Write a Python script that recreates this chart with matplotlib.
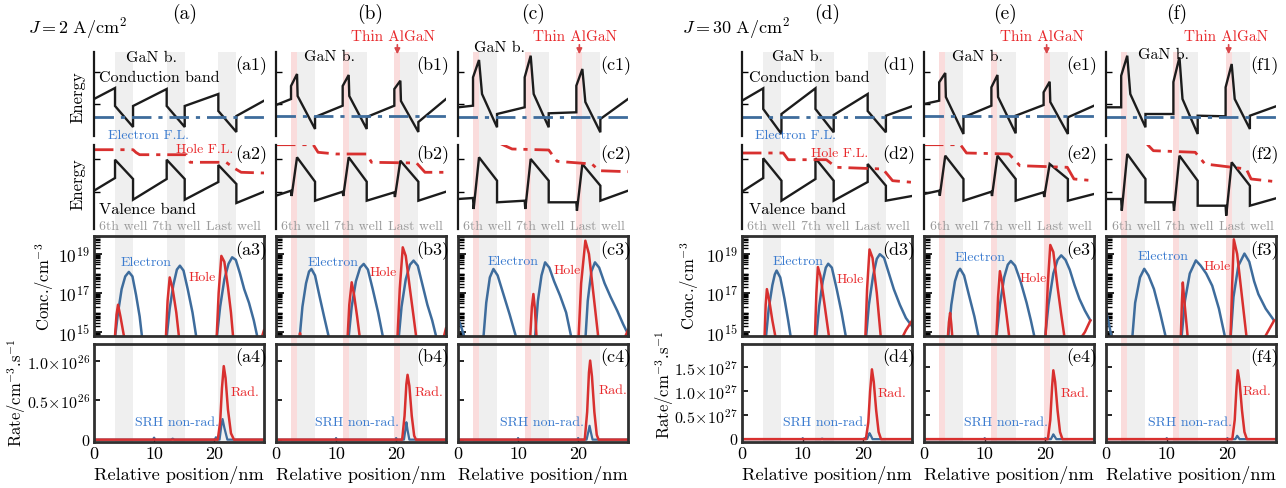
import numpy as np
import matplotlib
matplotlib.use('Agg')
import matplotlib.pyplot as plt
from matplotlib.ticker import LogLocator, NullFormatter
from matplotlib.transforms import blended_transform_factory

plt.rcParams['font.family'] = 'cmr10'
plt.rcParams['mathtext.fontset'] = 'cm'
plt.rcParams['axes.unicode_minus'] = False
plt.rcParams['axes.formatter.use_mathtext'] = True

W, H = 1286, 489

# ---------------- data (x in nm) ----------------
well_spans = [(3.5, 6.5), (12.1, 15.1), (20.7, 23.7)]
algan_spans = [(2.5, 3.5), (11.1, 12.1), (19.7, 20.7)]
well_names = ['6th well', '7th well', 'Last well']
well_label_x = [4.9, 13.7, 23.2]

# conduction band (a.u.)
cb_a = [(0, 37), (3.5, 48), (3.5, 30), (6.5, 9), (6.5, 30), (12.1, 47), (12.1, 30), (15.1, 9), (15.1, 30),
        (20.7, 42), (20.7, 25), (23.7, 4), (23.7, 20), (28.3, 35.3)]
cb_b = [(0, 31), (2.5, 37), (2.5, 50), (3.5, 62), (3.6, 40), (6.5, 7), (6.5, 19), (11.1, 30.3), (11.1, 50),
        (12.1, 61), (12.2, 40), (15.1, 7), (15.1, 19), (19.7, 30.3), (19.7, 47), (20.7, 55.3), (20.8, 35),
        (23.7, 4), (23.7, 14), (28.3, 37)]
cb_c = [(0, 28.7), (2.5, 30.3), (2.5, 58.7), (3.5, 76), (4.0, 42), (6.5, 8.7), (6.5, 22), (11.1, 28.7),
        (11.1, 58.7), (12.1, 80.3), (12.6, 42), (15.1, 8.7), (15.1, 22.7), (19.7, 23.7), (19.7, 50.3),
        (20.7, 67), (21.2, 34), (23.7, 3.7), (23.7, 17), (28.3, 37)]
cb_d = [(0, 35.3), (3.5, 47.7), (3.5, 27), (6.5, 2), (6.5, 22), (12.1, 47.7), (12.1, 27), (15.1, 3.7),
        (15.1, 21), (20.7, 42), (20.7, 25), (23.7, 3.7), (23.7, 20.3), (28.0, 29.7)]
cb_e = [(0, 32), (2.5, 35.3), (2.5, 53.7), (3.5, 63), (3.6, 39), (6.5, 2), (6.5, 18.7), (11.1, 30.3),
        (11.1, 48.7), (12.1, 61), (12.2, 39), (15.1, 2.7), (15.1, 20.3), (19.7, 31), (19.7, 43.7),
        (20.7, 54.3), (20.8, 34), (23.7, 2), (23.7, 18.7), (28.0, 30.3)]
cb_f = [(0, 28.7), (2.5, 28.7), (2.5, 60.3), (3.5, 80.3), (4.0, 42), (6.5, 8.7), (6.5, 22), (11.1, 22),
        (11.1, 54), (12.1, 78.7), (12.6, 37), (15.1, 2), (15.1, 20.3), (19.7, 19.7), (19.7, 48.7),
        (20.7, 72), (21.2, 37), (23.7, 7), (23.7, 20.3), (28.0, 29.7)]

# valence band (a.u.)
vb_a = [(0, 38.3), (3.5, 51), (3.5, 69.3), (6.5, 50), (6.5, 29.3), (12.1, 50), (12.1, 69.3), (15.1, 50),
        (15.1, 29.3), (20.7, 47), (20.7, 64), (23.7, 45), (23.7, 26), (28.3, 37.3)]
vb_b = [(0, 33.3), (2.5, 38.3), (2.6, 33), (3.5, 71.7), (6.5, 47.3), (6.5, 28.3), (11.1, 37.3), (11.2, 33),
        (12.1, 71.7), (15.1, 47.3), (15.1, 28.3), (19.7, 36.7), (19.8, 32), (20.7, 68.3), (23.7, 47.3),
        (23.7, 28.3), (28.3, 37.3)]
vb_c = [(0, 30), (2.5, 31), (2.6, 20), (3.5, 71.7), (6.5, 48.3), (6.5, 26.7), (11.1, 28.3), (11.2, 20),
        (12.1, 70), (15.1, 48.3), (15.1, 26.7), (19.7, 26.7), (19.8, 18.3), (20.7, 65), (23.7, 43.3),
        (23.7, 28.3), (28.3, 38.3)]
vb_d = [(0, 37.3), (3.5, 51), (3.5, 70.7), (6.5, 48.3), (6.5, 28.3), (12.1, 50), (12.1, 70.7), (15.1, 48.3),
        (15.1, 28.3), (20.7, 47), (20.7, 65), (23.7, 43.3), (23.7, 28.3), (28.0, 33)]
vb_e = [(0, 35), (2.5, 38.3), (2.6, 33.3), (3.5, 73.3), (6.5, 50), (6.5, 28.3), (11.1, 37.3), (11.2, 33),
        (12.1, 73.3), (15.1, 50), (15.1, 28.3), (19.7, 36.7), (19.8, 32), (20.7, 65), (23.7, 50),
        (23.7, 28.3), (28.0, 35)]
vb_f = [(0, 30), (2.5, 30), (2.6, 18.3), (3.5, 75), (6.5, 50), (6.5, 26.7), (11.1, 26.7), (11.2, 18.3),
        (12.1, 73.3), (15.1, 48.3), (15.1, 23.3), (19.7, 23.3), (19.8, 13.3), (20.7, 66.7), (23.7, 43.3),
        (23.7, 23.3), (28.0, 30.7)]

# quasi Fermi levels (a.u.)
efn_levels = [19.3, 19.7, 19.3, 18.7, 19.7, 18.7]
efp_a = [(0, 79.3), (6.5, 79.3), (7.0, 76.5), (7.6, 74.3), (15.4, 74.3), (16.0, 66.7), (22.0, 66.7),
         (23.3, 61), (24.5, 56.7), (28.3, 56)]
efp_b = [(0, 84.3), (6.2, 84.3), (7.0, 76.7), (10.0, 75), (15.1, 75), (15.9, 66.7), (23.4, 66),
         (24.8, 56.7), (28.3, 56.7)]
efp_c = [(6.8, 87), (7.2, 85), (9.0, 80), (15.1, 79), (16.5, 67.7), (22.3, 65), (23.5, 58.3), (28.3, 57.3)]
efp_d = [(0, 76), (6.8, 76), (7.6, 69.3), (13.9, 69.3), (15.5, 61.7), (23.2, 60), (24.8, 48.3), (28.0, 46.7)]
efp_e = [(0, 84.3), (6.0, 84.3), (7.0, 76), (14.0, 75), (15.8, 63.3), (23.6, 61.7), (24.7, 50), (28.0, 48.3)]
efp_f = [(6.5, 87.3), (6.9, 84), (7.8, 78.3), (14.7, 76.7), (16.3, 65), (23.1, 60), (23.9, 50), (28.0, 47.3)]

# carrier concentration, log10(cm^-3)
elec_a = [[(3.45, 14.6), (4.0, 16.0), (4.6, 17.2), (5.2, 17.85), (5.8, 18.08), (6.4, 17.85), (7.0, 16.9),
           (7.6, 15.8), (8.05, 14.6)],
          [(12.05, 14.6), (12.6, 16.2), (13.2, 17.4), (13.8, 18.2), (14.3, 18.4), (14.9, 18.15), (15.6, 17.2),
           (16.4, 16.0), (17.1, 14.6)],
          [(20.4, 14.6), (21.0, 16.3), (21.7, 17.7), (22.4, 18.5), (23.0, 18.83), (23.6, 18.7), (24.3, 18.0),
           (25.0, 17.2), (25.8, 16.5), (26.6, 15.6), (27.3, 14.6)]]
hole_a = [[(3.45, 14.6), (3.75, 15.9), (4.0, 16.4), (4.4, 15.8), (5.1, 14.6)],
          [(11.95, 14.6), (12.25, 16.6), (12.6, 17.8), (13.1, 17.2), (13.7, 16.0), (14.2, 14.6)],
          [(20.4, 14.6), (20.75, 17.0), (21.2, 18.9), (21.7, 18.6), (22.3, 17.3), (22.8, 16.0), (23.2, 14.6)],
          [(27.8, 14.6), (28.3, 15.1)]]
elec_b = [[(3.9, 14.6), (4.4, 16.3), (5.0, 17.5), (5.5, 18.1), (5.9, 18.23), (6.5, 17.9), (7.2, 16.9),
           (8.0, 15.8), (8.9, 14.6)],
          [(12.05, 14.6), (12.6, 16.3), (13.3, 17.6), (14.0, 18.3), (14.6, 18.49), (15.3, 18.2), (16.1, 17.2),
           (17.0, 16.0), (17.9, 14.6)],
          [(20.4, 14.6), (20.9, 16.3), (21.6, 17.7), (22.3, 18.45), (22.9, 18.66), (23.6, 18.4), (24.4, 17.4),
           (25.2, 16.4), (26.0, 15.6), (26.8, 14.6)]]
hole_b = [[(3.8, 14.6), (4.0, 14.95), (4.2, 14.6)],
          [(11.9, 14.6), (12.2, 16.4), (12.6, 17.55), (13.0, 16.9), (13.5, 15.8), (14.0, 14.6)],
          [(20.2, 14.6), (20.6, 17.2), (21.1, 19.34), (21.6, 18.9), (22.3, 17.2), (22.9, 15.8), (23.4, 14.6)],
          [(27.8, 14.6), (28.3, 15.2)]]
elec_c = [[(0, 15.7), (0.5, 15.3), (1.2, 14.6)],
          [(4.2, 14.6), (4.7, 16.5), (5.3, 17.8), (5.9, 18.23), (6.6, 17.9), (7.5, 17.0), (8.6, 15.9),
           (9.8, 14.6)],
          [(12.8, 14.6), (13.3, 16.6), (13.9, 17.9), (14.5, 18.57), (15.2, 18.3), (16.0, 17.6), (17.0, 16.86),
           (18.0, 16.0), (18.95, 14.6)],
          [(21.2, 14.6), (21.6, 16.6), (22.2, 18.1), (22.8, 18.57), (23.5, 18.3), (24.4, 17.5), (25.4, 16.8),
           (26.5, 16.1), (27.5, 15.4), (28.3, 14.9)]]
hole_c = [[(12.0, 14.6), (12.3, 16.3), (12.55, 16.95), (12.8, 16.2), (13.1, 14.6)],
          [(20.05, 14.6), (20.5, 17.5), (21.2, 19.68), (21.8, 19.0), (22.6, 16.8), (23.4, 14.6)],
          [(27.6, 14.6), (28.3, 15.1)]]
elec_d = [[(3.9, 14.6), (4.4, 16.2), (5.0, 17.4), (5.4, 17.95), (5.7, 18.15), (6.3, 17.8), (7.0, 16.7),
           (7.6, 15.6), (8.1, 14.6)],
          [(12.2, 14.6), (12.7, 16.3), (13.3, 17.6), (13.8, 18.3), (14.2, 18.5), (14.8, 18.3), (15.6, 17.2),
           (16.4, 16.0), (17.2, 14.6)],
          [(20.4, 14.6), (20.9, 16.4), (21.6, 17.9), (22.2, 18.75), (22.7, 18.99), (23.4, 18.8), (24.2, 18.0),
           (25.0, 17.2), (26.0, 16.4), (27.0, 15.72), (28.0, 15.3)]]
hole_d = [[(3.7, 14.6), (3.9, 16.4), (4.1, 17.2), (4.5, 16.6), (5.0, 15.6), (5.6, 14.6)],
          [(12.0, 14.6), (12.25, 17.0), (12.5, 18.33), (12.9, 17.9), (13.6, 16.4), (14.4, 14.6)],
          [(20.3, 14.6), (20.6, 17.2), (21.0, 19.23), (21.5, 18.8), (22.2, 17.0), (22.9, 14.6)],
          [(26.2, 14.6), (27.0, 15.1), (28.0, 15.58)]]
elec_e = [[(3.95, 14.6), (4.5, 16.4), (5.1, 17.6), (5.6, 18.1), (5.95, 18.24), (6.6, 17.9), (7.4, 16.9),
           (8.3, 15.8), (9.1, 14.6)],
          [(11.9, 14.6), (12.5, 16.4), (13.2, 17.8), (13.8, 18.45), (14.3, 18.64), (15.0, 18.4), (15.9, 17.6),
           (16.9, 16.5), (17.6, 15.6), (18.3, 14.6)],
          [(19.9, 14.6), (20.5, 16.4), (21.3, 18.0), (22.0, 18.7), (22.6, 18.93), (23.3, 18.7), (24.0, 18.2),
           (24.8, 17.4), (25.6, 16.7), (26.5, 16.1), (27.4, 15.6)]]
hole_e = [[(3.9, 14.6), (4.1, 15.5), (4.3, 15.98), (4.5, 15.4), (4.7, 14.6)],
          [(11.9, 14.6), (12.2, 16.8), (12.5, 18.12), (12.9, 17.5), (13.5, 16.1), (14.1, 14.6)],
          [(20.0, 14.6), (20.4, 17.5), (20.8, 19.46), (21.3, 19.1), (22.0, 17.3), (22.6, 15.9), (23.2, 14.6)],
          [(25.6, 14.6), (26.5, 15.0), (27.4, 15.6)]]
elec_f = [[(0, 16.1), (0.5, 15.4), (1.0, 14.6)],
          [(4.3, 14.6), (4.8, 16.5), (5.6, 17.8), (6.3, 18.24), (7.0, 17.9), (7.9, 17.2), (8.9, 16.0),
           (9.95, 14.6)],
          [(12.4, 14.6), (13.0, 16.6), (13.8, 18.0), (14.8, 18.67), (15.6, 18.4), (16.5, 18.0), (17.5, 17.37),
           (18.6, 16.2), (19.7, 14.6)],
          [(20.5, 14.6), (21.0, 16.8), (21.8, 18.4), (22.8, 19.02), (23.6, 18.6), (24.4, 17.6), (25.1, 16.94),
           (26.3, 16.2), (27.6, 15.63)]]
hole_f = [[(12.3, 14.6), (12.5, 16.5), (12.65, 17.54), (12.9, 16.6), (13.5, 14.6)],
          [(20.5, 14.6), (20.8, 17.6), (21.05, 19.75), (21.6, 19.0), (22.4, 16.8), (23.2, 14.6)],
          [(25.9, 14.6), (26.8, 15.1), (27.7, 15.6)]]

# recombination rates (a-c: 1e26, d-f: 1e27 cm^-3 s^-1)
rad_a = [(0, 0), (20.6, 0), (21.0, 0.22), (21.3, 0.65), (21.6, 0.93), (21.9, 0.78), (22.3, 0.38), (22.8, 0.08),
         (23.3, 0), (28.3, 0)]
srh_a = [(0, 0), (9.8, 0), (10.0, 0.025), (10.2, 0), (12.8, 0), (13.1, 0.012), (13.4, 0), (20.1, 0),
         (20.3, 0.03), (20.5, 0), (20.9, 0), (21.2, 0.18), (21.4, 0.26), (21.7, 0.15), (22.2, 0), (28.3, 0)]
rad_b = [(0, 0), (21.0, 0), (21.4, 0.3), (21.7, 0.7), (21.9, 0.82), (22.2, 0.68), (22.6, 0.3), (23.0, 0.05),
         (23.3, 0), (28.3, 0)]
srh_b = [(0, 0), (9.9, 0), (10.0, 0.02), (10.1, 0), (19.9, 0), (20.0, 0.02), (20.1, 0), (21.3, 0),
         (21.55, 0.13), (21.7, 0.22), (21.9, 0.12), (22.2, 0), (28.3, 0)]
rad_c = [(0, 0), (21.1, 0), (21.5, 0.35), (21.8, 0.85), (22.0, 1.0), (22.3, 0.8), (22.7, 0.35), (23.1, 0.06),
         (23.4, 0), (28.3, 0)]
srh_c = [(0, 0), (9.9, 0), (10.0, 0.02), (10.1, 0), (19.9, 0), (20.0, 0.02), (20.1, 0), (21.4, 0),
         (21.7, 0.1), (21.9, 0.175), (22.1, 0.1), (22.4, 0), (28.3, 0)]
rad_d = [(0, 0), (20.4, 0), (20.8, 0.35), (21.1, 1.0), (21.4, 1.46), (21.7, 1.2), (22.1, 0.6), (22.5, 0.15),
         (22.9, 0), (28.0, 0)]
srh_d = [(0, 0), (9.9, 0), (10.0, 0.02), (10.1, 0), (13.0, 0), (13.2, 0.01), (13.4, 0), (20.0, 0),
         (20.2, 0.02), (20.4, 0), (20.6, 0), (20.85, 0.08), (21.0, 0.125), (21.2, 0.08), (21.5, 0), (28.0, 0)]
rad_e = [(0, 0), (20.4, 0), (20.8, 0.4), (21.1, 1.1), (21.3, 1.44), (21.6, 1.2), (22.0, 0.6), (22.4, 0.15),
         (22.8, 0), (28.0, 0)]
srh_e = [(0, 0), (9.9, 0), (10.0, 0.02), (10.1, 0), (19.9, 0), (20.0, 0.02), (20.1, 0), (20.9, 0),
         (21.15, 0.06), (21.3, 0.1), (21.5, 0.06), (21.8, 0), (28.0, 0)]
rad_f = [(0, 0), (20.8, 0), (21.2, 0.4), (21.5, 1.1), (21.7, 1.44), (22.0, 1.2), (22.4, 0.6), (22.8, 0.15),
         (23.2, 0), (28.0, 0)]
srh_f = [(0, 0), (9.9, 0), (10.0, 0.02), (10.1, 0), (19.9, 0), (20.0, 0.02), (20.1, 0), (21.3, 0),
         (21.5, 0.045), (21.6, 0.07), (21.75, 0.045), (22.0, 0), (28.0, 0)]

col_keys = ['a', 'b', 'c', 'd', 'e', 'f']
col_left = [94, 276, 458, 742, 924, 1106]
col_xmax = [28.3, 28.3, 28.3, 28.0, 28.0, 28.0]
col_algan = [False, True, True, False, True, True]
cb_all = [cb_a, cb_b, cb_c, cb_d, cb_e, cb_f]
vb_all = [vb_a, vb_b, vb_c, vb_d, vb_e, vb_f]
efp_all = [efp_a, efp_b, efp_c, efp_d, efp_e, efp_f]
elec_all = [elec_a, elec_b, elec_c, elec_d, elec_e, elec_f]
hole_all = [hole_a, hole_b, hole_c, hole_d, hole_e, hole_f]
rad_all = [rad_a, rad_b, rad_c, rad_d, rad_e, rad_f]
srh_all = [srh_a, srh_b, srh_c, srh_d, srh_e, srh_f]

# label positions (pixels)
gan_pos = [(152, 58), (330, 57), (500, 48), (798, 57), (977, 57), (1163, 55)]
elec_lab = [(146, 263), (333, 263), (513, 262), (798, 262), (980, 258), (1163, 257)]
hole_lab = [(202, 278), (383, 273), (567, 271), (850, 280), (1033, 279), (1217, 267)]
srh_lab = [(177, 423), (357, 423), (542, 423), (825, 423), (1006, 423), (1190, 423)]
rad_lab = [(245, 393), (429, 393), (613, 391), (892, 394), (1075, 394), (1257, 392)]
title_pos = [(185, 14), (370, 14), (533, 14), (827, 14), (1005, 14), (1177, 14)]

BLUE = '#3e6c9c'
RED = '#d8302f'
BLUE_T = '#3b7bcf'
RED_T = '#e8282b'
GRAY = '#efefef'
PINK = '#fadcdc'
FRAME = '#303030'
ROWS = [(53, 137), (146, 230), (237, 337), (345, 443)]
CW = 170
LAB = 10  # coloured in-panel labels

fig = plt.figure(figsize=(W / 100, H / 100), dpi=100)


def rect(left, top, width, height):
    return [left / W, 1 - (top + height) / H, width / W, height / H]


def ftext(x, y, s, **kw):
    kw.setdefault('ha', 'center')
    kw.setdefault('va', 'center')
    fig.text(x / W, 1 - y / H, s, **kw)


def xy(pts):
    xs, ys = zip(*pts)
    return np.array(xs), np.array(ys)


for i, k in enumerate(col_keys):
    left = col_left[i]
    xmax = col_xmax[i]
    first = i in (0, 3)

    # background shading across the whole column
    bg = fig.add_axes(rect(left, 53, CW, 443 - 53))
    bg.set_xlim(0, xmax)
    bg.set_ylim(0, 1)
    bg.axis('off')
    for s0, s1 in well_spans:
        bg.axvspan(s0, s1, color=GRAY, lw=0)
    if col_algan[i]:
        for s0, s1 in algan_spans:
            bg.axvspan(s0, s1, color=PINK, lw=0)
        xa = 0.5 * (algan_spans[2][0] + algan_spans[2][1])
        bg.annotate('', xy=(xa, 1 - 58 / H), xytext=(xa, 1 - 43 / H),
                    xycoords=('data', 'figure fraction'), textcoords=('data', 'figure fraction'),
                    arrowprops=dict(arrowstyle='-|>', color='#d9474a', lw=1.2, mutation_scale=8),
                    annotation_clip=False)

    # rows 1 and 2: band diagrams
    band_axes = []
    for r in (0, 1):
        t, b = ROWS[r]
        ax = fig.add_axes(rect(left, t, CW, b - t))
        ax.set_facecolor('none')
        ax.set_xlim(0, xmax)
        ax.set_ylim(0, 84)
        for sp in ('top', 'right', 'bottom'):
            ax.spines[sp].set_visible(False)
        ax.spines['left'].set_linewidth(1.6)
        ax.spines['left'].set_color('#1a1a1a')
        ax.set_xticks([])
        ax.set_yticks([32, 64] if r == 0 else [37, 70])
        ax.tick_params(axis='y', direction='in', length=4, width=1, labelleft=False)
        band_axes.append(ax)
    ax1, ax2 = band_axes
    x, y = xy(cb_all[i])
    ax1.plot(x, y, color='#1c1c1c', lw=1.7, solid_joinstyle='miter')
    ax1.plot([0, xmax], [efn_levels[i], efn_levels[i]], color=BLUE, lw=2,
             linestyle=(0, (7, 2.5, 1.5, 2.5)))
    x, y = xy(vb_all[i])
    ax2.plot(x, y, color='#1c1c1c', lw=1.7, solid_joinstyle='miter')
    x, y = xy(efp_all[i])
    ax2.plot(x, y, color=RED, lw=2, linestyle=(0, (7, 2.5, 1.5, 2.5)))
    tr = blended_transform_factory(ax2.transData, ax2.transAxes)
    for name, wx in zip(well_names, well_label_x):
        ax2.text(wx, 0.04, name, transform=tr, ha='center', va='center', fontsize=10, color='#9a9a9a')

    # row 3: concentration
    t, b = ROWS[2]
    ax3 = fig.add_axes(rect(left, t, CW, b - t))
    ax3.set_facecolor('none')
    ax3.set_yscale('log')
    ax3.set_xlim(0, xmax)
    ax3.set_ylim(10 ** 14.8, 10 ** 19.92)
    for seg in elec_all[i]:
        x, y = xy(seg)
        ax3.plot(x, 10 ** y, color=BLUE, lw=1.8)
    for seg in hole_all[i]:
        x, y = xy(seg)
        ax3.plot(x, 10 ** y, color=RED, lw=1.8)
    ax3.set_yticks([1e15, 1e17, 1e19])
    ax3.set_yticklabels([r'$10^{15}$', r'$10^{17}$', r'$10^{19}$'] if first else ['', '', ''])
    ax3.yaxis.set_minor_locator(LogLocator(base=10, subs=np.arange(1, 10), numticks=30))
    ax3.yaxis.set_minor_formatter(NullFormatter())
    ax3.tick_params(axis='y', which='major', direction='in', length=6, width=1.2, labelsize=12.5, pad=3)
    ax3.tick_params(axis='y', which='minor', direction='in', length=4, width=1.0)
    ax3.set_xticks([])
    for sp in ax3.spines.values():
        sp.set_linewidth(2)
        sp.set_color(FRAME)

    # row 4: recombination rates
    t, b = ROWS[3]
    ax4 = fig.add_axes(rect(left, t, CW, b - t))
    ax4.set_facecolor('none')
    ax4.set_xlim(0, xmax)
    if i < 3:
        ax4.set_ylim(-0.03, 1.21)
        ax4.set_yticks([0, 0.5, 1.0])
        labs = ['0', r'$0.5\!\times\!10^{26}$', r'$1.0\!\times\!10^{26}$']
    else:
        ax4.set_ylim(-0.06, 1.99)
        ax4.set_yticks([0, 0.5, 1.0, 1.5])
        labs = ['0', r'$0.5\!\times\!10^{27}$', r'$1.0\!\times\!10^{27}$', r'$1.5\!\times\!10^{27}$']
    ax4.set_yticklabels(labs if first else [''] * len(labs))
    x, y = xy(srh_all[i])
    ax4.plot(x, y, color=BLUE, lw=1.6)
    x, y = xy(rad_all[i])
    ax4.plot(x, y, color=RED, lw=1.8)
    ax4.set_xticks([0, 10, 20])
    ax4.set_xticklabels(['0', '10', '20'])
    ax4.tick_params(axis='y', direction='in', length=4, width=1.2, labelsize=11.5, pad=3)
    ax4.tick_params(axis='x', direction='in', length=3, width=1.0, labelsize=13, pad=3)
    for sp in ax4.spines.values():
        sp.set_linewidth(2)
        sp.set_color(FRAME)

    right = left + CW
    cx = left + CW / 2
    # panel tags
    ftext(right + 3, 66, '(%s1)' % k, ha='right', fontsize=13)
    ftext(right + 3, 155, '(%s2)' % k, ha='right', fontsize=13)
    ftext(right + 3, 251, '(%s3)' % k, ha='right', fontsize=13)
    ftext(right + 3, 358, '(%s4)' % k, ha='right', fontsize=13)
    ftext(title_pos[i][0], title_pos[i][1], '(%s)' % k, fontsize=14)
    ftext(gan_pos[i][0], gan_pos[i][1], 'GaN b.', fontsize=11.5)
    ftext(elec_lab[i][0], elec_lab[i][1], 'Electron', color=BLUE_T, fontsize=LAB)
    ftext(hole_lab[i][0], hole_lab[i][1], 'Hole', color=RED_T, fontsize=LAB)
    ftext(srh_lab[i][0], srh_lab[i][1], 'SRH non-rad.', color=BLUE_T, fontsize=LAB)
    ftext(rad_lab[i][0], rad_lab[i][1], 'Rad.', color=RED_T, fontsize=LAB)
    ftext(cx, 475, 'Relative position/nm', fontsize=13.2)

# "Thin AlGaN" labels
for xp in (393, 575, 1042, 1226):
    ftext(xp, 37, 'Thin AlGaN', color=RED_T, fontsize=11)

# group annotations
for gx, jtxt in ((28, r'$J=2\ \mathrm{A/cm^2}$'), (682, r'$J=30\ \mathrm{A/cm^2}$')):
    ftext(gx, 28, jtxt, ha='left', fontsize=13)
for gx in (99, 749):
    ftext(gx, 78, 'Conduction band', ha='left', fontsize=11.5)
    ftext(gx, 210, 'Valence band', ha='left', fontsize=11.8)
ftext(108, 136, 'Electron F.L.', ha='left', color=BLUE_T, fontsize=LAB)
ftext(755, 136, 'Electron F.L.', ha='left', color=BLUE_T, fontsize=LAB)
ftext(176, 150, 'Hole F.L.', ha='left', color=RED_T, fontsize=LAB)
ftext(811, 154, 'Hole F.L.', ha='left', color=RED_T, fontsize=LAB)
ftext(78, 97, 'Energy', rotation=90, fontsize=12)
ftext(78, 184, 'Energy', rotation=90, fontsize=12)
ftext(45, 287, r'Conc./cm$^{-3}$', rotation=90, fontsize=12)
ftext(690, 286, r'Conc./cm$^{-3}$', rotation=90, fontsize=12)
ftext(17, 393, r'Rate/cm$^{-3}$.s$^{-1}$', rotation=90, fontsize=12)
ftext(665, 385, r'Rate/cm$^{-3}$.s$^{-1}$', rotation=90, fontsize=12)

fig.savefig('out.png', dpi=100)
